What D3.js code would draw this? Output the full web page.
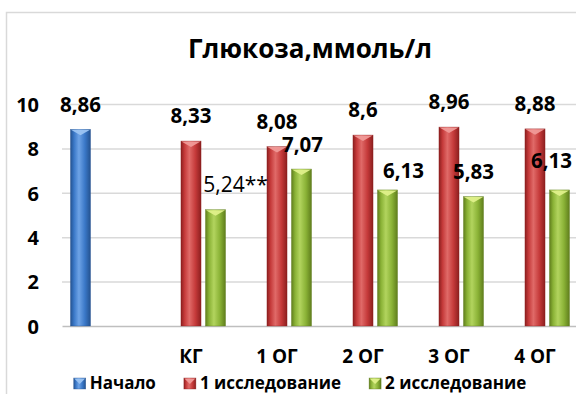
<!DOCTYPE html>
<html>
<head>
<meta charset="utf-8">
<script src="https://cdn.jsdelivr.net/npm/d3@7"></script>
<style>
  html, body { margin: 0; padding: 0; background: #fff; }
  svg { display: block; }
  text { font-family: "Open Sans", "Noto Sans", sans-serif; fill: #000; }
</style>
</head>
<body>
<svg id="chart" width="576" height="394"></svg>
<script>
// Glucose levels by group, mmol/l
const categories = ["", "КГ", "1 ОГ", "2 ОГ", "3 ОГ", "4 ОГ"];
const seriesNames = ["Начало", "1 исследование", "2 исследование"];
const startValues = [8.86, null, null, null, null, null];
const study1Values = [null, 8.33, 8.08, 8.6, 8.96, 8.88];
const study2Values = [null, 5.24, 7.07, 6.13, 5.83, 6.13];
const study2Marks = ["", "**", "", "", "", ""];
const yTicks = [0, 2, 4, 6, 8, 10];
const titleText = "Глюкоза,ммоль/л";

// label nudges [dx, dy] relative to the default spot above each bar
const labelNudge = {
  "0-0": [0, 1],
  "2-1": [20, 0], "2-2": [1, 1], "2-3": [16, 6], "2-4": [0, 0], "2-5": [-8, -4]
};
const nudge = d => labelNudge[d.s + "-" + d.c] || [0, 0];

const svg = d3.select("#chart");
const W = 576, H = 394;

const palette = [
  { dark: "#24528f", mid: "#3a78c8", light: "#6ea3e6", cap: "#9cc4f2" },
  { dark: "#8c1f1f", mid: "#c53a3a", light: "#e06a68", cap: "#f09a98" },
  { dark: "#5f7d1c", mid: "#8ab236", light: "#b2d45e", cap: "#dff08a" }
];

const defs = svg.append("defs");
palette.forEach((p, i) => {
  const g = defs.append("linearGradient").attr("id", "grad" + i)
    .attr("x1", "0%").attr("x2", "100%").attr("y1", "0%").attr("y2", "0%");
  g.append("stop").attr("offset", "0%").attr("stop-color", p.dark);
  g.append("stop").attr("offset", "18%").attr("stop-color", p.mid);
  g.append("stop").attr("offset", "42%").attr("stop-color", p.light);
  g.append("stop").attr("offset", "72%").attr("stop-color", p.mid);
  g.append("stop").attr("offset", "100%").attr("stop-color", p.dark);
});

// chart frame
svg.append("rect").attr("x", 6.5).attr("y", 12.5).attr("width", 620).attr("height", 420)
  .attr("fill", "#fff").attr("stroke", "#d9d9d9").attr("stroke-width", 1.5);

const x0 = d3.scaleBand().domain(d3.range(categories.length)).range([62, 578]).paddingInner(0).paddingOuter(0);
const bw0 = x0.bandwidth();
// series slots: the middle slot sits on the category centre
const x1 = d3.scaleBand().domain(d3.range(seriesNames.length))
  .range([bw0 / 2 - 36.75, bw0 / 2 + 36.75]).paddingInner(0.18).paddingOuter(0.09);
const y = d3.scaleLinear().domain([0, 10]).range([326, 104]);

// gridlines
svg.append("g").selectAll("line").data(yTicks.filter(t => t > 0)).join("line")
  .attr("x1", 62).attr("x2", W).attr("y1", d => y(d) + 0.5).attr("y2", d => y(d) + 0.5)
  .attr("stroke", "#d9d9d9").attr("stroke-width", 1.5);

// y axis labels
const yAxis = d3.axisLeft(y).tickValues(yTicks).tickSize(0).tickPadding(0);
const ya = svg.append("g").attr("transform", "translate(39,0)").call(yAxis);
ya.select(".domain").remove();
ya.selectAll("text").attr("font-size", 20).attr("font-weight", "bold")
  .attr("font-family", "'Open Sans', sans-serif").attr("fill", "#000").attr("dy", "0.36em");

// category axis
const xAxis = d3.axisBottom(x0).tickFormat(i => categories[i]).tickSize(0).tickPadding(0);
const xa = svg.append("g").attr("transform", "translate(0,326)").call(xAxis);
xa.select(".domain").attr("stroke", "#bfbfbf").attr("stroke-width", 1.5);
xa.selectAll("text").attr("font-size", 19).attr("font-weight", "bold")
  .attr("font-family", "'Open Sans', sans-serif").attr("fill", "#000")
  .attr("y", 37).attr("dy", 0);

// bars
const seriesValues = [startValues, study1Values, study2Values];
const rows = [];
seriesValues.forEach((vals, s) => vals.forEach((v, c) => { if (v != null) rows.push({ s, c, v }); }));

const barG = svg.append("g");
const bars = barG.selectAll("g.bar").data(rows).join("g").attr("class", "bar");
function drawBar(sel, bx, by, bw, bh, s) {
  const p = palette[s];
  sel.append("rect").attr("x", bx).attr("y", by).attr("width", bw).attr("height", bh)
    .attr("fill", `url(#grad${s})`).attr("stroke", p.dark).attr("stroke-width", 0.6).attr("stroke-opacity", 0.6);
  const capH = Math.min(6, bh);
  sel.append("path")
    .attr("d", `M${bx + 0.5},${by + 0.5} L${bx + bw - 0.5},${by + 0.5} L${bx + bw / 2},${by + capH} Z`)
    .attr("fill", p.cap).attr("opacity", 0.95);
}
bars.each(function(d) {
  const bx = x0(d.c) + x1(d.s), bw = x1.bandwidth();
  drawBar(d3.select(this), bx, y(d.v), bw, y(0) - y(d.v), d.s);
});

// value labels
const fmt = v => String(v).replace(".", ",");
const isMarked = d => d.s === 2 && study2Marks[d.c];
barG.selectAll("text.val").data(rows).join("text").attr("class", "val")
  .attr("x", d => x0(d.c) + x1(d.s) + x1.bandwidth() / 2 + nudge(d)[0])
  .attr("y", d => y(d.v) - 18 + nudge(d)[1])
  .attr("text-anchor", "middle")
  .attr("font-size", d => isMarked(d) ? 21 : 20.5)
  .attr("font-weight", d => isMarked(d) ? "normal" : "bold")
  .text(d => fmt(d.v) + (d.s === 2 ? study2Marks[d.c] : ""));

// title
svg.append("text").attr("x", 310).attr("y", 58).attr("text-anchor", "middle")
  .attr("font-size", 26).attr("font-weight", "bold").text(titleText);

// legend
const lg = svg.append("g").attr("transform", "translate(0,389)");
const items = lg.selectAll("g").data(seriesNames).join("g");
items.append("text").attr("x", 16).attr("y", 0).attr("font-size", 17).attr("font-weight", "bold").text(d => d);
const widths = [];
items.each(function() { widths.push(16 + d3.select(this).select("text").node().getComputedTextLength()); });
const gap = 28;
const total = d3.sum(widths) + gap * (widths.length - 1);
let cx = 300 - total / 2;
items.each(function(d, i) {
  const g = d3.select(this).attr("transform", `translate(${cx},0)`);
  drawBar(g.insert("g", "text"), 0, -11, 12, 11, i);
  cx += widths[i] + gap;
});
</script>
</body>
</html>
